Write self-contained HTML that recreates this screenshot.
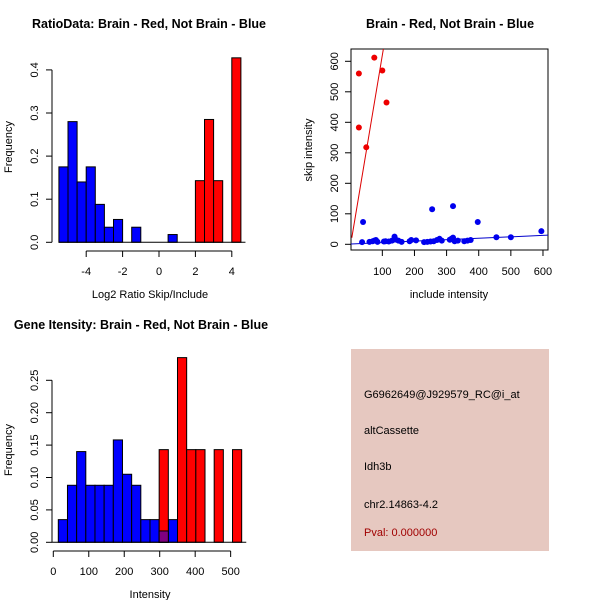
<!DOCTYPE html>
<html><head><meta charset="utf-8"><style>
body{margin:0;background:#fff}
svg{display:block;font-family:"Liberation Sans",Arial,sans-serif}
</style></head><body>
<svg id="s" width="600" height="600" xmlns="http://www.w3.org/2000/svg">
<rect width="600" height="600" fill="#fff"/>
<text x="149" y="28" font-size="12.5" font-weight="bold" text-anchor="middle">RatioData: Brain - Red, Not Brain - Blue</text>
<text x="450" y="28" font-size="12.5" font-weight="bold" text-anchor="middle">Brain - Red, Not Brain - Blue</text>
<text x="141" y="329" font-size="12.5" font-weight="bold" text-anchor="middle">Gene Itensity: Brain - Red, Not Brain - Blue</text>
<text x="150" y="298" font-size="11" text-anchor="middle">Log2 Ratio Skip/Include</text>
<text x="449" y="298" font-size="11" text-anchor="middle">include intensity</text>
<text x="150" y="598" font-size="11" text-anchor="middle">Intensity</text>
<text transform="translate(12,147) rotate(-90)" font-size="11" text-anchor="middle">Frequency</text>
<text transform="translate(312,150) rotate(-90)" font-size="11" text-anchor="middle">skip intensity</text>
<text transform="translate(12,450) rotate(-90)" font-size="11" text-anchor="middle">Frequency</text>
<g>
<rect x="351" y="349" width="198" height="202" fill="#e6c8c0"/>
<text x="364" y="398" font-size="11">G6962649@J929579_RC@i_at</text>
<text x="364" y="434" font-size="11">altCassette</text>
<text x="364" y="470" font-size="11">Idh3b</text>
<text x="364" y="508" font-size="11">chr2.14863-4.2</text>
<text x="364" y="536" font-size="11" fill="#a00000">Pval: 0.000000</text>
</g>
</svg>
<script>
// Ratio histogram data
const ratioBlueStarts=[-5.5,-5,-4.5,-4,-3.5,-3,-2.5,-1.5,0.5];
const ratioBlueFreq=[0.175,0.28,0.14,0.175,0.088,0.035,0.053,0.035,0.018];
const ratioRedStarts=[2,2.5,3,4];
const ratioRedFreq=[0.143,0.285,0.143,0.428];
const ratioXTicks=[-4,-2,0,2,4];
const ratioYTicks=["0.0","0.1","0.2","0.3","0.4"];
// Scatter data
const redInc=[27,27,50,75,100,113];
const redSkip=[560,383,318,612,570,465];
const blueInc=[40,37,60,70,75,80,85,105,110,120,130,138,140,150,160,185,190,205,230,240,250,255,260,270,278,285,310,315,320,320,325,335,355,365,375,397,455,500,595];
const blueSkip=[73,7,8,10,12,14,8,9,10,9,12,25,18,12,8,10,14,13,7,8,9,115,10,14,18,12,15,18,125,22,10,12,10,12,14,73,23,23,43];
const redFit=[-10,6.3];
const blueFit=[1,0.047];
const scatTicks=[100,200,300,400,500,600];
// Intensity histogram data
const intBlueBins=[0,1,2,3,4,5,6,7,8,9,10,11,12];
const intBlueFreq=[0.035,0.088,0.14,0.088,0.088,0.088,0.158,0.105,0.088,0.035,0.035,0.0175,0.035];
const intRedBins=[11,13,14,15,17,19];
const intRedFreq=[0.143,0.285,0.143,0.143,0.143,0.143];
const intXTicks=[0,100,200,300,400,500];
const intYTicks=["0.00","0.05","0.10","0.15","0.20","0.25"];

const S=document.getElementById('s'),NS='http://www.w3.org/2000/svg';
function mk(t,a,p){const e=document.createElementNS(NS,t);for(const k in a)e.setAttribute(k,a[k]);(p||S).appendChild(e);return e;}
function g(name){const e=mk('g',{});


return e;}

// ---- Ratio histogram
{const X=v=>159+v*18.2,Y=v=>242.3-v*431;const G=g('ratio-histogram');
ratioBlueStarts.forEach((s,i)=>{const r=mk('rect',{x:X(s),y:Y(ratioBlueFreq[i]),width:X(s+0.5)-X(s),height:Y(0)-Y(ratioBlueFreq[i]),fill:'#0000ff',stroke:'#000'},G);

});
ratioRedStarts.forEach((s,i)=>{const r=mk('rect',{x:X(s),y:Y(ratioRedFreq[i]),width:X(s+0.5)-X(s),height:Y(0)-Y(ratioRedFreq[i]),fill:'#ff0000',stroke:'#000'},G);

});
mk('line',{x1:X(-5.5),x2:X(4.75),y1:Y(0),y2:Y(0),stroke:'#000'},G);
mk('line',{x1:X(ratioXTicks[0]),x2:X(ratioXTicks[ratioXTicks.length-1]),y1:251,y2:251,stroke:'#000'},G);
ratioXTicks.forEach(t=>{mk('line',{x1:X(t),x2:X(t),y1:251,y2:257,stroke:'#000'},G);const tx=mk('text',{x:X(t),y:275,'font-size':11,'text-anchor':'middle'},G);tx.textContent=t;});
mk('line',{x1:52,x2:52,y1:Y(0),y2:Y(0.4),stroke:'#000'},G);
ratioYTicks.forEach((t,i)=>{const y=Y(i*0.1);mk('line',{x1:46,x2:52,y1:y,y2:y,stroke:'#000'},G);const tx=mk('text',{transform:`translate(38,${y}) rotate(-90)`,'font-size':11,'text-anchor':'middle'},G);tx.textContent=t;});}

// ---- Scatter
{const X=v=>350.2+v*0.3213,Y=v=>244.3-v*0.305;const G=g('scatter-plot');
mk('rect',{x:351,y:49,width:197,height:201,fill:'none',stroke:'#000'},G);
const cp=mk('clipPath',{id:'cp'},G);mk('rect',{x:351,y:49,width:197,height:201},cp);
mk('line',{x1:X(5),y1:Y(redFit[0]+redFit[1]*5),x2:X(110),y2:Y(redFit[0]+redFit[1]*110),stroke:'#dd0000','clip-path':'url(#cp)'},G);
mk('line',{x1:X(0),y1:Y(blueFit[0]),x2:X(620),y2:Y(blueFit[0]+blueFit[1]*620),stroke:'#0000cc','clip-path':'url(#cp)'},G);
redInc.forEach((v,i)=>{const c=mk('circle',{cx:X(v),cy:Y(redSkip[i]),r:3,fill:'#ee0000'},G);

});
blueInc.forEach((v,i)=>{const c=mk('circle',{cx:X(v),cy:Y(blueSkip[i]),r:3,fill:'#0000ee'},G);

});
scatTicks.forEach(t=>{mk('line',{x1:X(t),x2:X(t),y1:250,y2:256,stroke:'#000'},G);const tx=mk('text',{x:X(t),y:275,'font-size':11,'text-anchor':'middle'},G);tx.textContent=t;});
[0,100,200,300,400,500,600].forEach(t=>{const y=Y(t);mk('line',{x1:345,x2:351,y1:y,y2:y,stroke:'#000'},G);const tx=mk('text',{transform:`translate(338,${y}) rotate(-90)`,'font-size':11,'text-anchor':'middle'},G);tx.textContent=t;});}

// ---- Intensity histogram
{const X=v=>53.3+v*0.3547,Y=v=>542.3-v*648;const w=25.85,s0=14.1;const G=g('intensity-histogram');
const bx=b=>X(s0+b*w);
intBlueBins.forEach((b,i)=>{const r=mk('rect',{x:bx(b),y:Y(intBlueFreq[i]),width:bx(b+1)-bx(b),height:Y(0)-Y(intBlueFreq[i]),fill:'#0000ff',stroke:'#000'},G);

});
intRedBins.forEach((b,i)=>{const r=mk('rect',{x:bx(b),y:Y(intRedFreq[i]),width:bx(b+1)-bx(b),height:Y(0)-Y(intRedFreq[i]),fill:'#ff0000',stroke:'#000'},G);


const j=intBlueBins.indexOf(b);if(j>=0){const o=Math.min(intBlueFreq[j],intRedFreq[i]);const p=mk('rect',{x:bx(b),y:Y(o),width:bx(b+1)-bx(b),height:Y(0)-Y(o),fill:'#800080',stroke:'#000'},G);

}});
mk('line',{x1:bx(-0.7),x2:bx(20.5),y1:Y(0),y2:Y(0),stroke:'#000'},G);
mk('line',{x1:X(0),x2:X(500),y1:551,y2:551,stroke:'#000'},G);
intXTicks.forEach(t=>{mk('line',{x1:X(t),x2:X(t),y1:551,y2:557,stroke:'#000'},G);const tx=mk('text',{x:X(t),y:575,'font-size':11,'text-anchor':'middle'},G);tx.textContent=t;});
mk('line',{x1:52,x2:52,y1:Y(0),y2:Y(0.25),stroke:'#000'},G);
intYTicks.forEach((t,i)=>{const y=Y(i*0.05);mk('line',{x1:46,x2:52,y1:y,y2:y,stroke:'#000'},G);const tx=mk('text',{transform:`translate(38,${y}) rotate(-90)`,'font-size':11,'text-anchor':'middle'},G);tx.textContent=t;});}
</script>
</body></html>
